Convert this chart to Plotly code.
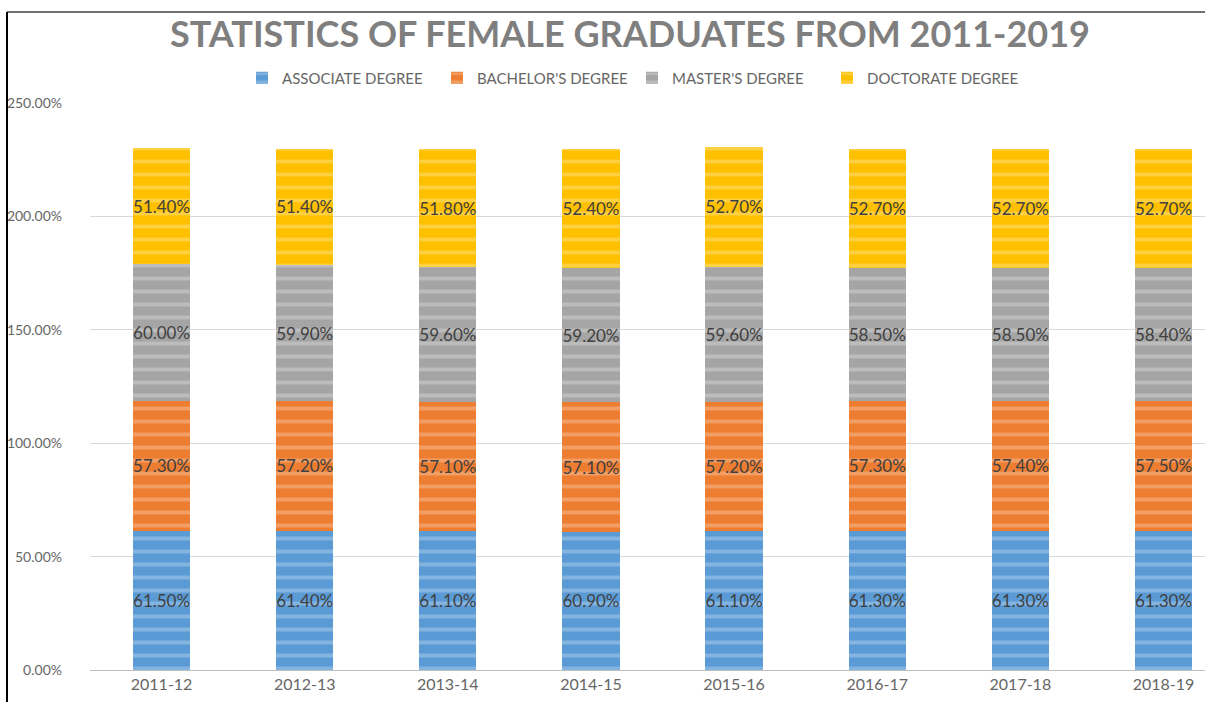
import plotly.graph_objects as go

categories = ["2011-12", "2012-13", "2013-14", "2014-15", "2015-16", "2016-17", "2017-18", "2018-19"]
associate = [61.5, 61.4, 61.1, 60.9, 61.1, 61.3, 61.3, 61.3]
bachelor = [57.3, 57.2, 57.1, 57.1, 57.2, 57.3, 57.4, 57.5]
master = [60.0, 59.9, 59.6, 59.2, 59.6, 58.5, 58.5, 58.4]
doctorate = [51.4, 51.4, 51.8, 52.4, 52.7, 52.7, 52.7, 52.7]
series_names = ["ASSOCIATE DEGREE", "BACHELOR'S DEGREE", "MASTER'S DEGREE", "DOCTORATE DEGREE"]
colors = ["#5B9BD5", "#ED7D31", "#A5A5A5", "#FFC000"]
tickvals = [0, 50, 100, 150, 200, 250]
ticktext = ["0.00%", "50.00%", "100.00%", "150.00%", "200.00%", "250.00%"]

FONT = "Lato"
fig = go.Figure()
for name, vals, col in zip(series_names, [associate, bachelor, master, doctorate], colors):
    fig.add_trace(go.Bar(
        x=list(range(len(categories))), y=vals, name=name,
        marker=dict(color=col, line=dict(width=0),
                    pattern=dict(shape="-", fgcolor="rgba(255,255,255,0.5)", size=13, solidity=0.3)),
        text=[f"{v:.2f}%" for v in vals],
        textposition="inside", insidetextanchor="middle", constraintext="none", textangle=0,
        textfont=dict(family=FONT, size=17, color="#404040"),
        hoverinfo="skip",
    ))

fig.update_layout(
    barmode="stack", bargap=0.6,
    width=1205, height=702,
    margin=dict(l=90, r=0, t=103, b=32, autoexpand=False),
    paper_bgcolor="white", plot_bgcolor="white",
    font=dict(family=FONT, color="#595959"),
    title=dict(text="STATISTICS OF FEMALE GRADUATES FROM 2011-2019",
               x=630 / 1205, xanchor="center", y=1 - 34 / 702, yanchor="middle",
               font=dict(family=FONT, size=36, color="#7F7F7F", weight="bold")),
    legend=dict(orientation="h", x=(632 - 90) / 1115, xanchor="center",
                y=(670 - 78) / 567, yanchor="middle",
                font=dict(family=FONT, size=15, color="#666666"),
                itemwidth=30, traceorder="normal",
                entrywidth=150, entrywidthmode="pixels"),
    showlegend=True,
)
fig.update_xaxes(range=[-0.5, 7.29], tickvals=list(range(len(categories))), ticktext=categories,
                 showgrid=False, showline=True, linecolor="#BFBFBF", linewidth=1, automargin=False,
                 tickfont=dict(family=FONT, size=16, color="#666666"), ticks="", zeroline=False)
fig.update_yaxes(range=[0, 250], tickvals=tickvals, ticktext=ticktext, automargin=False,
                 showgrid=True, gridcolor="#D9D9D9", gridwidth=1, zeroline=False,
                 tickfont=dict(family=FONT, size=14, color="#666666"), ticks="",
                 ticklabelstandoff=27)

# frame lines (top and left border of the captured chart)
fig.add_shape(type="line", xref="paper", yref="paper",
              x0=(7 - 90) / 1115, x1=1.01, y0=(670 - 12) / 567, y1=(670 - 12) / 567,
              line=dict(color="#707070", width=2))
fig.add_shape(type="line", xref="paper", yref="paper",
              x0=(7 - 90) / 1115, x1=(7 - 90) / 1115, y0=(670 - 12) / 567, y1=-0.1,
              line=dict(color="#000000", width=2))

fig.write_html("out.html", config={"displayModeBar": False},
               post_script="document.body.style.margin='0';")
